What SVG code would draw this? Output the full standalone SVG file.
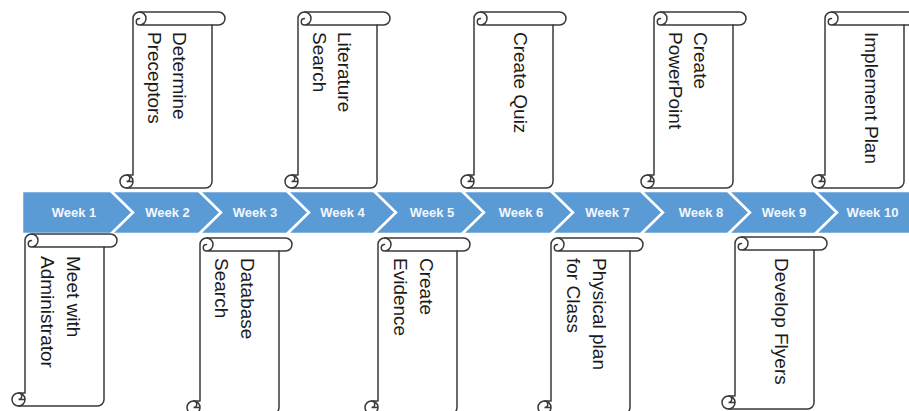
<svg xmlns="http://www.w3.org/2000/svg" xmlns:xlink="http://www.w3.org/1999/xlink" width="909" height="411" viewBox="0 0 909 411">
<style>
.chev{fill:#5b9bd5;stroke:#ffffff;stroke-width:2.5;stroke-linejoin:miter}
.wk{font-family:"Liberation Sans",Arial,sans-serif;font-size:13px;font-weight:bold;fill:#f2f6fc;text-anchor:middle}
.sc{fill:#ffffff;stroke:#3a3a3a;stroke-width:1.5;stroke-linejoin:round}
.scd{fill:none;stroke:#3a3a3a;stroke-width:1.5;stroke-linecap:round}
.lb{font-family:"Liberation Sans",Arial,sans-serif;font-size:19px;fill:#1a1a1a}
</style>
<defs>
<g id="scrollTop">
<path class="sc" d="M13,163 L13,6.5 A6.5,6.5 0 0 1 19.5,0 L98.5,0 A6.5,6.5 0 0 1 98.5,13 L92,13 L92,169.5 A6.5,6.5 0 0 1 85.5,176 L6.5,176 A6.5,6.5 0 0 1 6.5,163 Z"/>
<path class="scd" d="M19.5,0 A6.5,6.5 0 0 1 19.5,13 M19.5,13 A3.25,3.25 0 0 1 19.5,6.5 M19.5,13 L92,13 M6.5,163 A6.5,6.5 0 0 1 6.5,176 M6.5,163 A3.25,3.25 0 0 1 6.5,169.5 L13,169.5"/>
</g>
<g id="scrollBot">
<path class="sc" d="M13,159 L13,6.5 A6.5,6.5 0 0 1 19.5,0 L98.5,0 A6.5,6.5 0 0 1 98.5,13 L92,13 L92,165.5 A6.5,6.5 0 0 1 85.5,172 L6.5,172 A6.5,6.5 0 0 1 6.5,159 Z"/>
<path class="scd" d="M19.5,0 A6.5,6.5 0 0 1 19.5,13 M19.5,13 A3.25,3.25 0 0 1 19.5,6.5 M19.5,13 L92,13 M6.5,159 A6.5,6.5 0 0 1 6.5,172 M6.5,159 A3.25,3.25 0 0 1 6.5,165.5 L13,165.5"/>
</g>
</defs>

<g id="timeline">
<g id="week1"><polygon class="chev" points="22,191 111,191 133,212.5 111,234 22,234"/><text class="wk" x="74" y="217">Week 1</text></g>
<g id="week2"><polygon class="chev" points="111,191 199,191 221,212.5 199,234 111,234 133,212.5"/><text class="wk" x="167.5" y="217">Week 2</text></g>
<g id="week3"><polygon class="chev" points="199,191 287,191 309,212.5 287,234 199,234 221,212.5"/><text class="wk" x="255" y="217">Week 3</text></g>
<g id="week4"><polygon class="chev" points="287,191 374,191 396,212.5 374,234 287,234 309,212.5"/><text class="wk" x="342.5" y="217">Week 4</text></g>
<g id="week5"><polygon class="chev" points="374,191 462,191 484,212.5 462,234 374,234 396,212.5"/><text class="wk" x="432" y="217">Week 5</text></g>
<g id="week6"><polygon class="chev" points="462,191 551,191 573,212.5 551,234 462,234 484,212.5"/><text class="wk" x="521" y="217">Week 6</text></g>
<g id="week7"><polygon class="chev" points="551,191 641,191 663,212.5 641,234 551,234 573,212.5"/><text class="wk" x="607.5" y="217">Week 7</text></g>
<g id="week8"><polygon class="chev" points="641,191 728,191 750,212.5 728,234 641,234 663,212.5"/><text class="wk" x="701" y="217">Week 8</text></g>
<g id="week9"><polygon class="chev" points="728,191 815,191 837,212.5 815,234 728,234 750,212.5"/><text class="wk" x="784" y="217">Week 9</text></g>
<g id="week10"><polygon class="chev" points="815,191 915,191 915,234 815,234 837,212.5"/><text class="wk" x="872.5" y="217">Week 10</text></g>
</g>

<g id="connectors"/>

<g id="determine-preceptors" transform="translate(120,12)">
<use xlink:href="#scrollTop" href="#scrollTop"/>
<text class="lb" transform="translate(53,20) rotate(90)"><tspan x="0" y="0">Determine</tspan><tspan x="0" y="25.5">Preceptors</tspan></text>
</g>
<g id="literature-search" transform="translate(285,12)">
<use xlink:href="#scrollTop" href="#scrollTop"/>
<text class="lb" transform="translate(53,20) rotate(90)"><tspan x="0" y="0">Literature</tspan><tspan x="0" y="25.5">Search</tspan></text>
</g>
<g id="create-quiz" transform="translate(461,12)">
<use xlink:href="#scrollTop" href="#scrollTop"/>
<text class="lb" transform="translate(53,20) rotate(90)">Create Quiz</text>
</g>
<g id="create-powerpoint" transform="translate(641,12)">
<use xlink:href="#scrollTop" href="#scrollTop"/>
<text class="lb" transform="translate(53,20) rotate(90)"><tspan x="0" y="0">Create</tspan><tspan x="0" y="25.5">PowerPoint</tspan></text>
</g>
<g id="implement-plan" transform="translate(812,12)">
<use xlink:href="#scrollTop" href="#scrollTop"/>
<text class="lb" transform="translate(53,20) rotate(90)">Implement Plan</text>
</g>

<g id="meet-with-administrator" transform="translate(12,234)">
<use xlink:href="#scrollBot" href="#scrollBot"/>
<text class="lb" transform="translate(55,22) rotate(90)"><tspan x="0" y="0">Meet with</tspan><tspan x="0" y="26.5">Administrator</tspan></text>
</g>
<g id="database-search" transform="translate(187,238)">
<use xlink:href="#scrollTop" href="#scrollTop"/>
<text class="lb" transform="translate(54,20) rotate(90)"><tspan x="0" y="0">Database</tspan><tspan x="0" y="26">Search</tspan></text>
</g>
<g id="create-evidence" transform="translate(365,238)">
<use xlink:href="#scrollTop" href="#scrollTop"/>
<text class="lb" transform="translate(55,20) rotate(90)"><tspan x="0" y="0">Create</tspan><tspan x="0" y="26">Evidence</tspan></text>
</g>
<g id="physical-plan" transform="translate(538,238)">
<use xlink:href="#scrollTop" href="#scrollTop"/>
<text class="lb" transform="translate(55,20) rotate(90)"><tspan x="0" y="0">Physical plan</tspan><tspan x="0" y="26">for Class</tspan></text>
</g>
<g id="develop-flyers" transform="translate(722,237)">
<use xlink:href="#scrollBot" href="#scrollBot"/>
<text class="lb" transform="translate(53,21) rotate(90)">Develop Flyers</text>
</g>
</svg>
